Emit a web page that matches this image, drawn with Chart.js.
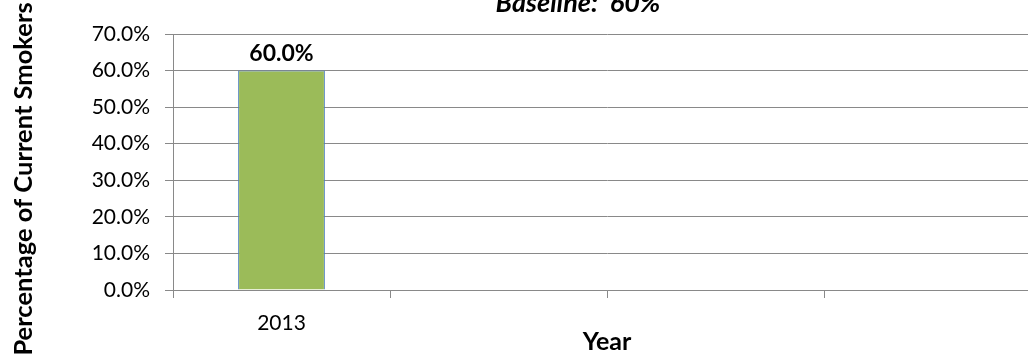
<!DOCTYPE html>
<html>
<head>
<meta charset="utf-8">
<script src="https://cdn.jsdelivr.net/npm/chart.js@4.4.1/dist/chart.umd.min.js"></script>
<style>
  html, body { margin: 0; padding: 0; background: #ffffff; overflow: hidden; width: 1028px; height: 360px; }
  #wrap { position: absolute; left: 0; top: 0; width: 1041px; height: 360px; }
</style>
</head>
<body>
<div id="wrap"><canvas id="chart" width="1041" height="360"></canvas></div>
<script>
// Survey years and the share of current smokers for each
const years = ['2013', '', '', ''];
const smokerPct = [60.0, null, null, null];

// Value axis range and step (percent)
const yMin = 0;
const yMax = 70;
const yStep = 10;

const chartTitle = 'Baseline:  60%';
const yTitle = 'Percentage of Current Smokers';
const xTitle = 'Year';

const FONT = 'Lato, "Open Sans", "DejaVu Sans", sans-serif';
const GRID = '#898989';

// Value label printed above each bar
const barLabels = {
  id: 'barLabels',
  afterDatasetsDraw(chart) {
    const ctx = chart.ctx;
    const meta = chart.getDatasetMeta(0);
    ctx.save();
    ctx.font = 'bold 23px ' + FONT;
    ctx.fillStyle = '#000000';
    ctx.textAlign = 'center';
    ctx.textBaseline = 'middle';
    meta.data.forEach((bar, i) => {
      const v = smokerPct[i];
      if (v === null || v === undefined) return;
      ctx.fillText(v.toFixed(1) + '%', bar.x, bar.y - 17);
    });
    ctx.restore();
  }
};

// Chart heading (runs off the top edge) and the rotated value-axis title
const headings = {
  id: 'headings',
  afterDraw(chart) {
    const ctx = chart.ctx;
    ctx.save();
    ctx.fillStyle = '#000000';
    ctx.textAlign = 'center';
    ctx.textBaseline = 'alphabetic';
    ctx.font = 'italic bold 27px ' + FONT;
    ctx.fillText(chartTitle, 578, 12);

    ctx.translate(32, 179);
    ctx.rotate(-Math.PI / 2);
    ctx.font = 'bold 25.5px ' + FONT;
    ctx.fillText(yTitle, 0, 0);
    ctx.restore();
  }
};

new Chart(document.getElementById('chart'), {
  type: 'bar',
  data: {
    labels: years,
    datasets: [{
      data: smokerPct,
      backgroundColor: '#9BBB59',
      borderColor: '#4F81BD',
      borderWidth: 1,
      barPercentage: 0.4,
      categoryPercentage: 1.0
    }]
  },
  options: {
    responsive: false,
    animation: false,
    layout: { padding: { left: 0, right: 0, top: 34, bottom: 0 } },
    plugins: {
      legend: { display: false },
      tooltip: { enabled: false },
      title: { display: false }
    },
    scales: {
      x: {
        grid: { display: true, drawOnChartArea: false, drawTicks: true, tickLength: 8, color: GRID, offset: true },
        border: { display: true, color: GRID, width: 1 },
        ticks: { color: '#000000', font: { family: FONT, size: 21 }, padding: 13, maxRotation: 0 },
        title: { display: true, text: xTitle, color: '#000000', font: { family: FONT, size: 25, weight: 'bold', lineHeight: 1.2 }, padding: { top: 0, bottom: 3 } },
        afterFit(scale) { scale.height = 70; }
      },
      y: {
        min: yMin,
        max: yMax,
        grid: { color: GRID, tickLength: 8, lineWidth: 1 },
        border: { display: true, color: GRID, width: 1 },
        ticks: {
          stepSize: yStep,
          color: '#000000',
          font: { family: FONT, size: 21 },
          padding: 15,
          callback: v => v.toFixed(1) + '%'
        },
        afterFit(scale) { scale.width = 173; }
      }
    }
  },
  plugins: [barLabels, headings]
});
</script>
</body>
</html>
